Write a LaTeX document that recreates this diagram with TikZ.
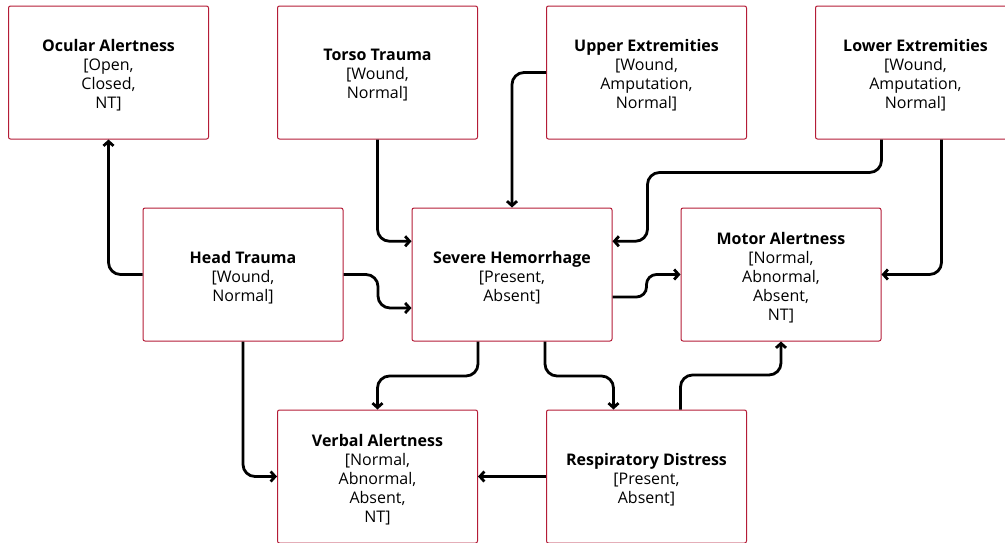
\documentclass[tikz,border=0pt]{standalone}
\usepackage{fontspec}
\setmainfont{Open Sans}
\usetikzlibrary{arrows.meta,calc}
\definecolor{boxred}{RGB}{180,28,55}
\begin{document}
\begin{tikzpicture}[x=1pt,y=-1pt,
  box/.style={draw=boxred,line width=1pt,rounded corners=2pt,fill=white,
    minimum width=200pt,minimum height=133pt,inner sep=0pt},
  boxtext/.style={inner sep=0pt,align=center,
    font=\fontsize{16}{19}\selectfont},
  conn/.style={draw=black,line width=2.8pt,rounded corners=12pt,
    -{Straight Barb[length=4.5pt,width=10pt]}},
]
\useasboundingbox (0,0) rectangle (1005,542);
\clip (0,0) rectangle (1005,542);
\node[box] (ocular) at (108.5,72.5) {};
\node[box] (torso) at (377.5,72.5) {};
\node[box] (upper) at (646.5,72.5) {};
\node[box] (lower) at (915.5,72.5) {};
\node[box] (head) at (243,274.5) {};
\node[box] (hem) at (512,274.5) {};
\node[box] (motor) at (781,274.5) {};
\node[box] (verbal) at (377.5,476.5) {};
\node[box] (resp) at (646.5,476.5) {};

\node[boxtext] (ocular-t) at ([yshift=-3pt]ocular.center) {\textbf{Ocular Alertness}\\\relax [Open,\\Closed,\\NT]};
\node[boxtext] (torso-t) at ([yshift=-3pt]torso.center) {\textbf{Torso Trauma}\\\relax [Wound,\\Normal]};
\node[boxtext] (upper-t) at ([yshift=-3pt]upper.center) {\textbf{Upper Extremities}\\\relax [Wound,\\Amputation,\\Normal]};
\node[boxtext] (lower-t) at ([yshift=-3pt]lower.center) {\textbf{Lower Extremities}\\\relax [Wound,\\Amputation,\\Normal]};
\node[boxtext] (head-t) at ([yshift=-3pt]head.center) {\textbf{Head Trauma}\\\relax [Wound,\\Normal]};
\node[boxtext] (hem-t) at ([yshift=-3pt]hem.center) {\textbf{Severe Hemorrhage}\\\relax [Present,\\Absent]};
\node[boxtext] (motor-t) at ([yshift=-3pt]motor.center) {\textbf{Motor Alertness}\\\relax [Normal,\\Abnormal,\\Absent,\\NT]};
\node[boxtext] (verbal-t) at ([yshift=-3pt]verbal.center) {\textbf{Verbal Alertness}\\\relax [Normal,\\Abnormal,\\Absent,\\NT]};
\node[boxtext] (resp-t) at ([yshift=-3pt]resp.center) {\textbf{Respiratory Distress}\\\relax [Present,\\Absent]};

\draw[conn] (head.west) -| (ocular.south);
\draw[conn] (torso.south) |- ([yshift=33.25pt]hem.west);
\draw[conn] (upper.west) -| (hem.north);
\draw[conn] ([xshift=-34pt]lower.south) -- ++(0,33) -| ([xshift=35pt,yshift=33.25pt]hem.east) -- ([yshift=33.25pt]hem.east);
\draw[conn] ([xshift=26pt]lower.south) |- (motor.east);
\draw[conn] (head.east) -- ++(34.5,0) -- ++(0,33.5) -- ([yshift=-33.5pt]hem.west);
\draw[conn,rounded corners=10pt] ([yshift=-22.5pt]hem.east) -- ++(34,0) -- ++(0,-22.5) -- (motor.west);
\draw[conn] (head.south) |- (verbal.west);
\draw[conn] ([xshift=-34pt]hem.south) -- ++(0,34.5) -| (verbal.north);
\draw[conn] ([xshift=33pt]hem.south) -- ++(0,34.5) -| ([xshift=-33pt]resp.north);
\draw[conn] ([xshift=34pt]resp.north) -- ++(0,-34.5) -| (motor.south);
\draw[conn] (resp.west) -- (verbal.east);
\end{tikzpicture}
\end{document}
